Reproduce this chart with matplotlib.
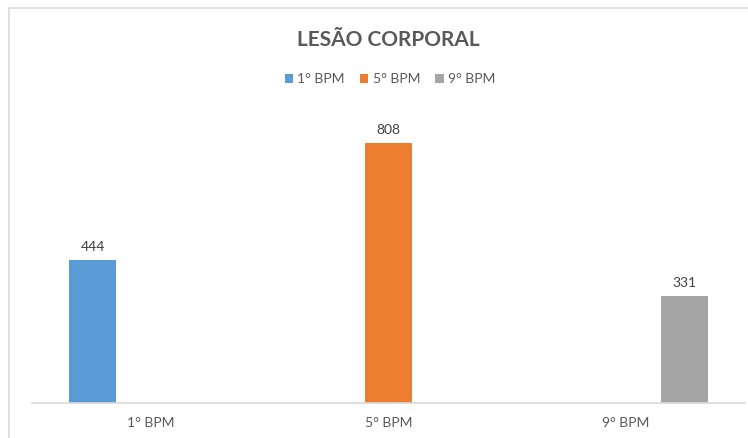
import matplotlib.pyplot as plt
import numpy as np
from matplotlib.patches import Rectangle

categories = ['1° BPM', '5° BPM', '9° BPM']
series_names = ['1° BPM', '5° BPM', '9° BPM']
values = [444, 808, 331]
colors = ['#5b9bd5', '#ed7d31', '#a5a5a5']

plt.rcParams['font.family'] = ['Lato', 'DejaVu Sans']

W, H = 748, 438
fig = plt.figure(figsize=(W / 100, H / 100), dpi=100)
ax = fig.add_axes([32 / W, 35 / H, 713 / W, 290 / H])

x = np.arange(len(categories))
offsets = [-0.245, 0.0, 0.245]
for i, name in enumerate(series_names):
    bars = ax.bar(x[i] + offsets[i], values[i], width=0.2, color=colors[i], label=name)
    ax.bar_label(bars, padding=5, fontsize=10, color='#404040')

ax.set_xlim(-0.5, 2.5)
ax.set_ylim(0, 900)
ax.set_xticks(x)
ax.set_xticklabels(categories, fontsize=10, color='#595959')
ax.tick_params(axis='x', length=0, pad=10)
ax.set_yticks([])
for s in ['top', 'right', 'left']:
    ax.spines[s].set_visible(False)
ax.spines['bottom'].set_color('#d9d9d9')
ax.spines['bottom'].set_linewidth(1.2)

fig.text(388 / W, 1 - 40 / H, 'LESÃO CORPORAL', ha='center', va='center',
         fontsize=15, fontweight='bold', color='#595959')
fig.legend(loc='center', bbox_to_anchor=(390 / W, 1 - 79 / H), ncol=3, frameon=False,
           fontsize=10, labelcolor='#595959', handlelength=0.6, handleheight=0.6,
           handletextpad=0.3, columnspacing=1.1)

# chart area border (partly cropped)
fig.patches.append(Rectangle((9 / W, -0.1), 1.2, 1 - 8 / H + 0.1, transform=fig.transFigure,
                             fill=False, edgecolor='#d9d9d9', linewidth=1.2))

fig.savefig('out.png', dpi=100)
